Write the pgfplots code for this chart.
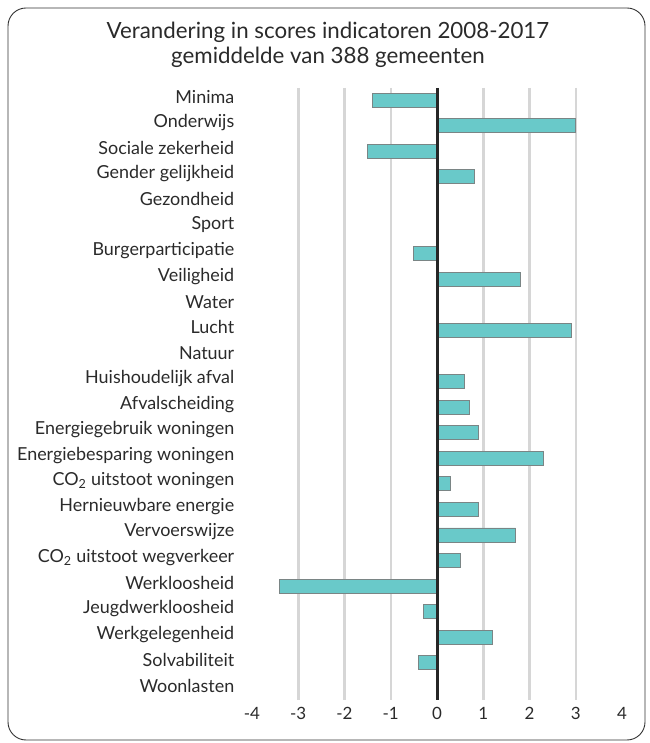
\documentclass[border=0pt]{standalone}
\usepackage{pgfplots}
\pgfplotsset{compat=1.18}
\usepackage{fontspec}
\setmainfont{Lato}
\definecolor{barfill}{HTML}{69C9C9}
\definecolor{barline}{HTML}{7A8585}
\definecolor{txt}{HTML}{2A2A2A}
\definecolor{gridc}{HTML}{D6D6D6}
\begin{document}
\begin{tikzpicture}[x=1bp,y=1bp]
\useasboundingbox (0,0) rectangle (650,743);
\draw[rounded corners=18bp, line width=0.9bp, color=black!80] (8,3) rectangle (645,735);
\node[font=\fontsize{22.4}{26}\selectfont, text=txt] at (328,711) {Verandering in scores indicatoren 2008-2017};
\node[font=\fontsize{22.4}{26}\selectfont, text=txt] at (328,686) {gemiddelde van 388 gemeenten};
\begin{axis}[
  at={(252bp,43bp)}, anchor=south west,
  scale only axis, width=370bp, height=612bp,
  xmin=-4, xmax=4, ymin=-0.47, ymax=23.45,
  y dir=reverse,
  xbar, bar width=14bp, bar shift=0pt,
  xtick={-4,-3,-2,-1,0,1,2,3,4},
  xticklabels={-4,-3,-2,-1,0,1,2,3,4},
  extra x ticks={-3,-2,-1,1,2,3},
  extra x tick labels={},
  extra x tick style={grid=major},
  major grid style={line width=2.5bp, color=gridc},
  ytick={0,...,23},
  yticklabels={Minima,Onderwijs,Sociale zekerheid,Gender gelijkheid,Gezondheid,Sport,Burgerparticipatie,Veiligheid,Water,Lucht,Natuur,Huishoudelijk afval,Afvalscheiding,Energiegebruik woningen,Energiebesparing woningen,CO\textsubscript{2} uitstoot woningen,Hernieuwbare energie,Vervoerswijze,CO\textsubscript{2} uitstoot wegverkeer,Werkloosheid,Jeugdwerkloosheid,Werkgelegenheid,Solvabiliteit,Woonlasten},
  yticklabel style={font=\fontsize{18}{20}\selectfont, text=txt, xshift=-10bp, yshift=3bp},
  xticklabel style={font=\fontsize{17}{19}\selectfont, text=txt, yshift=-4bp},
  axis line style={draw=none},
  tick style={draw=none},
  clip=false,
]
\addplot[fill=barfill, draw=barline, line width=0.9bp] coordinates {
(-1.4,0) (3.0,1) (-1.5,2) (0.8,3) (0,4) (0,5) (-0.5,6) (1.8,7) (0,8) (2.9,9) (0,10) (0.6,11) (0.7,12) (0.9,13) (2.3,14) (0.3,15) (0.9,16) (1.7,17) (0.5,18) (-3.4,19) (-0.3,20) (1.2,21) (-0.4,22) (0,23)
};
\draw[line width=3bp, color=black!85] (axis cs:0,-0.47) -- (axis cs:0,23.45);
\end{axis}
\end{tikzpicture}
\end{document}
